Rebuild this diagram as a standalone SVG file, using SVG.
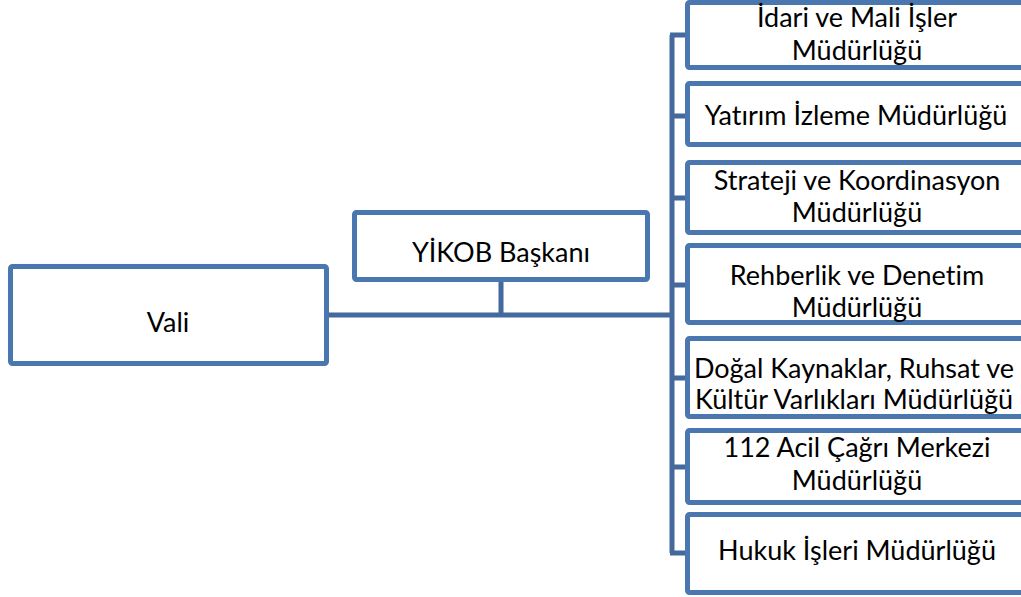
<svg xmlns="http://www.w3.org/2000/svg" width="1021" height="597" viewBox="0 0 1021 597">
<style>
.box{fill:#fff;stroke:#4A77AF;stroke-width:5}
.con{fill:none;stroke:#43699D;stroke-width:5;stroke-linecap:butt;stroke-linejoin:miter}
text{font-family:Lato,"Open Sans","Liberation Sans",sans-serif;font-size:27px;fill:#000;text-anchor:middle;font-variant-ligatures:none}
</style>
<rect width="1021" height="597" fill="#fff"/>
<g id="connectors">
<path class="con" d="M329 315H672M501 282V315M672 35V553M670 35H686M670 116H686M670 198H686M670 285H686M670 378H686M670 467H686M670 553H686"/>
</g>
<g id="vali"><rect class="box" x="10.5" y="266.5" width="316" height="97" rx="2"/><text x="168" y="332">Vali</text></g>
<g id="yikob"><rect class="box" x="354.5" y="212.5" width="293" height="67" rx="2"/><text x="501" y="262">YİKOB Başkanı</text></g>
<g id="idari"><rect class="box" x="687.5" y="2.5" width="345" height="65" rx="2"/><text x="857" y="27">İdari ve Mali İşler</text><text x="857" y="60">Müdürlüğü</text></g>
<g id="yatirim"><rect class="box" x="687.5" y="83.5" width="345" height="61" rx="2"/><text x="856" y="125">Yatırım İzleme Müdürlüğü</text></g>
<g id="strateji"><rect class="box" x="687.5" y="162.5" width="345" height="70" rx="2"/><text x="857" y="190">Strateji ve Koordinasyon</text><text x="857" y="222">Müdürlüğü</text></g>
<g id="rehberlik"><rect class="box" x="687.5" y="245.5" width="345" height="77" rx="2"/><text x="857" y="285">Rehberlik ve Denetim</text><text x="857" y="317">Müdürlüğü</text></g>
<g id="dogal"><rect class="box" x="687.5" y="338.5" width="345" height="78" rx="2"/><text x="854" y="378">Doğal Kaynaklar, Ruhsat ve</text><text x="854" y="409">Kültür Varlıkları Müdürlüğü</text></g>
<g id="acil"><rect class="box" x="687.5" y="430.5" width="345" height="72" rx="2"/><text x="857" y="457">112 Acil Çağrı Merkezi</text><text x="857" y="490">Müdürlüğü</text></g>
<g id="hukuk"><rect class="box" x="687.5" y="514.5" width="345" height="78" rx="2"/><text x="857" y="560">Hukuk İşleri Müdürlüğü</text></g>
</svg>
